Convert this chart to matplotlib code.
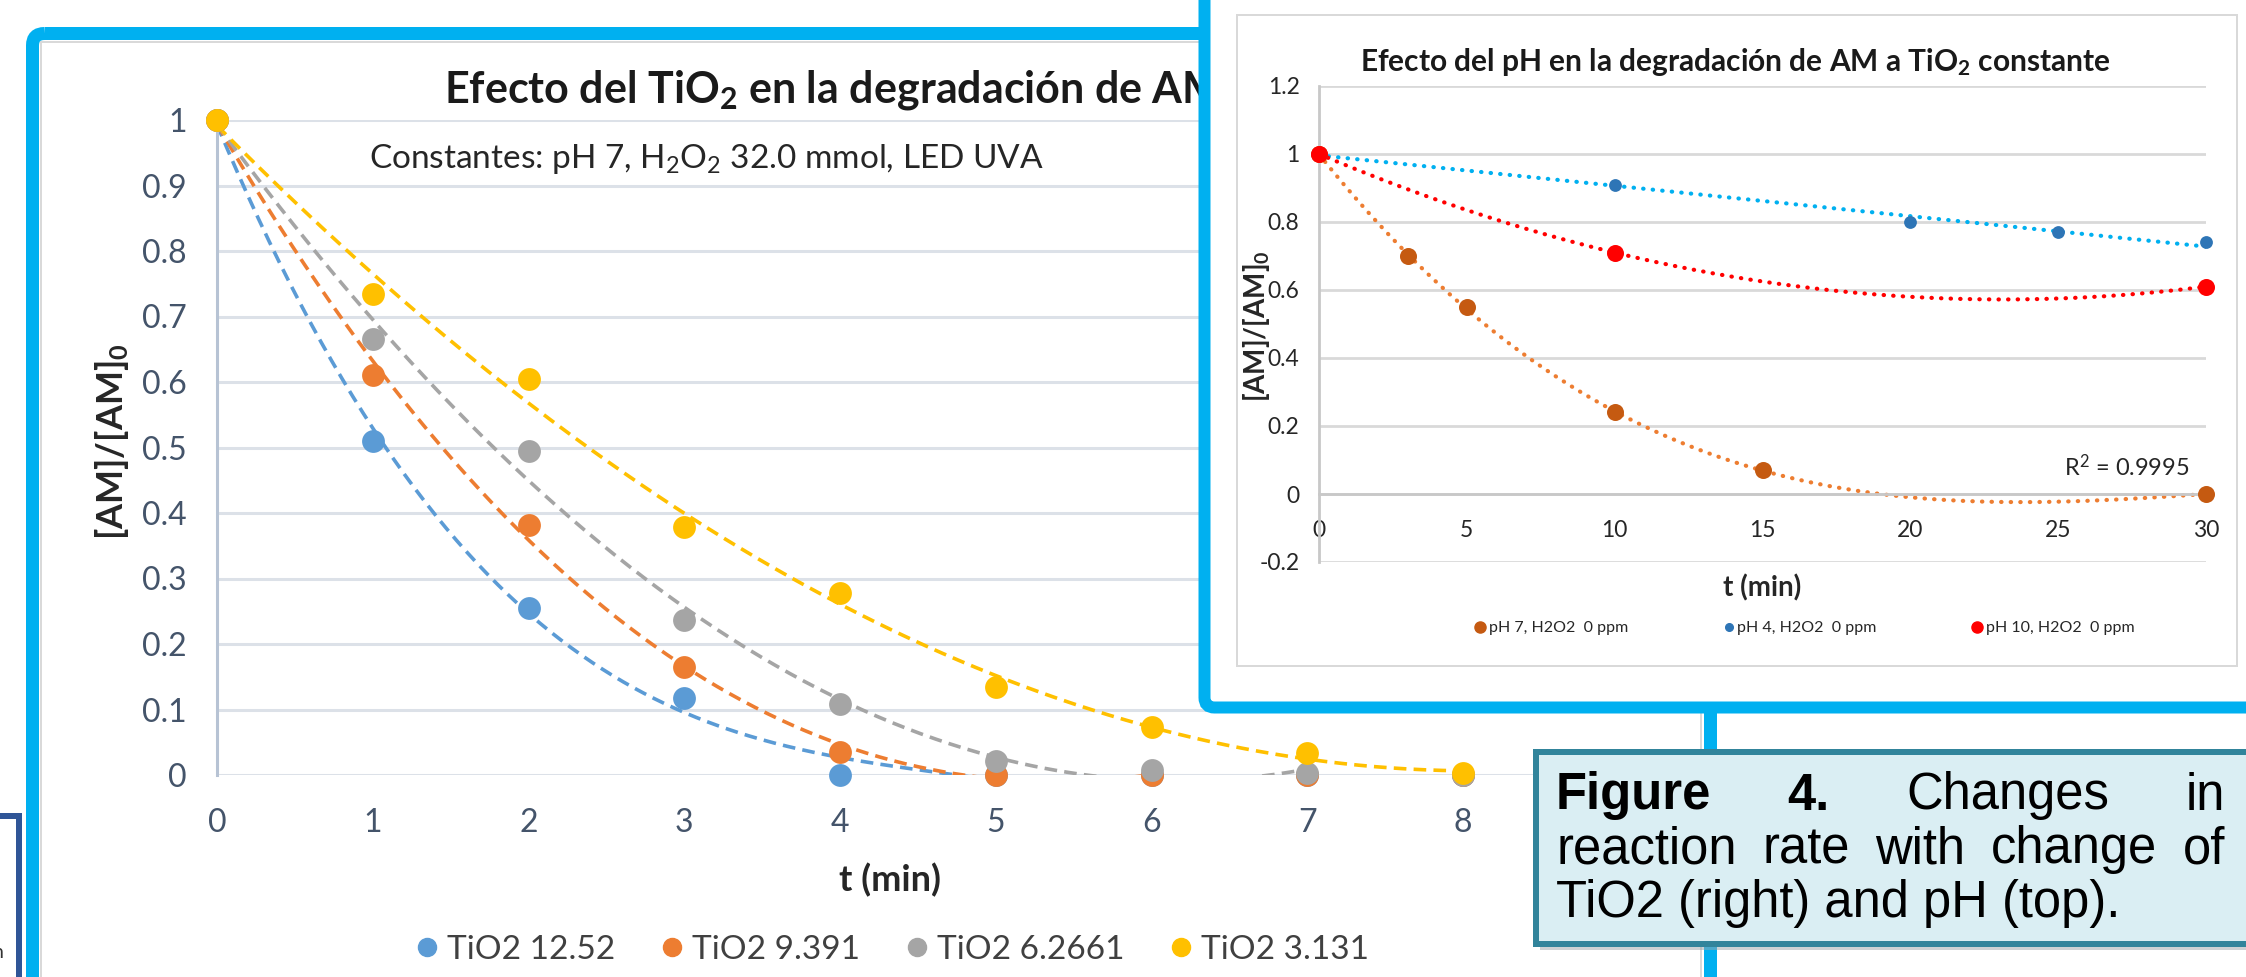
import numpy as np
import matplotlib.pyplot as plt
from matplotlib.patches import FancyBboxPatch, Rectangle
from matplotlib.lines import Line2D

plt.rcParams['font.family'] = ['Lato', 'DejaVu Sans']
plt.rcParams['mathtext.fontset'] = 'custom'
plt.rcParams['mathtext.rm'] = 'Lato'
plt.rcParams['mathtext.bf'] = 'Lato:bold'
plt.rcParams['mathtext.it'] = 'Lato:italic'

# main chart: effect of TiO2
t_main = [0, 1, 2, 3, 4, 5, 6, 7, 8]
tio2_labels = ['TiO2 12.52', 'TiO2 9.391', 'TiO2 6.2661', 'TiO2 3.131']
tio2_12 = [1, 0.51, 0.255, 0.118, 0.0, 0.0, 0.0, 0.0, 0.0]
tio2_9 = [1, 0.61, 0.382, 0.165, 0.035, 0.0, 0.0, 0.0, 0.0]
tio2_6 = [1, 0.665, 0.495, 0.237, 0.108, 0.022, 0.007, 0.003, 0.0]
tio2_3 = [1, 0.735, 0.605, 0.378, 0.278, 0.135, 0.073, 0.033, 0.003]
fit_n = [6, 7, 8, 9]   # points used by each trend line
main_colors = ['#5B9BD5', '#ED7D31', '#A5A5A5', '#FFC000']

# inset: effect of pH
t_ph7 = [0, 3, 5, 10, 15, 30]
ph7 = [1, 0.70, 0.55, 0.24, 0.07, 0.0]
t_ph4 = [0, 10, 20, 25, 30]
ph4 = [1, 0.91, 0.80, 0.77, 0.74]
t_ph10 = [0, 10, 30]
ph10 = [1, 0.71, 0.61]
ph_labels = ['pH 7, H2O2  0 ppm', 'pH 4, H2O2  0 ppm', 'pH 10, H2O2  0 ppm']
ph_deg = [3, 1, 2]   # trend line order

W, H = 2246, 977
fig = plt.figure(figsize=(W / 100, H / 100), dpi=100)
PT = 0.72  # points per pixel


def overlay(z):
    a = fig.add_axes([0, 0, 1, 1])
    a.set_xlim(0, W)
    a.set_ylim(H, 0)
    a.axis('off')
    a.set_zorder(z)
    return a


def px_rect(x0, y0, x1, y1):
    return [x0 / W, 1 - y1 / H, (x1 - x0) / W, (y1 - y0) / H]


# ---------- background: main chart frame ----------
bg = overlay(0)
bg.add_patch(Rectangle((41, 42), 1660, 1000, fc='white', ec='#D9D9D9', lw=2 * PT))
bg.add_patch(FancyBboxPatch((32.5, 33.5), 1678, 1000, boxstyle='round,pad=0,rounding_size=12',
                            fc='none', ec='#00B0F0', lw=13 * PT))
bg.add_patch(Rectangle((-60, 816), 79, 300, fc='white', ec='#2F5597', lw=6 * PT))
bg.text(-7, 952, 'n', fontsize=14, color='#333333', va='center', ha='left')

bg.text(444, 90, r'Efecto del TiO$_\mathbf{2}$ en la degradación de AM',
        fontsize=31, fontweight='bold', color='#1a1a1a', ha='left', va='center')
bg.text(369, 159, r'Constantes: pH 7, H$_2$O$_2$ 32.0 mmol, LED UVA',
        fontsize=24, color='#262626', ha='left', va='center')
bg.text(112, 442, r'[AM]/[AM]$_\mathbf{0}$', fontsize=26, fontweight='bold', color='#262626',
        rotation=90, ha='center', va='center')
bg.text(890, 880, 't (min)', fontsize=26, fontweight='bold', color='#262626',
        ha='center', va='center')

# ---------- main chart ----------
ax = fig.add_axes(px_rect(217, 120, 1619, 775))
ax.set_zorder(1)
ax.patch.set_alpha(0)
series = [tio2_12, tio2_9, tio2_6, tio2_3]
for y, n, c in zip(series, fit_n, main_colors):
    coef = np.polyfit(t_main[:n], y[:n], 3)
    tt = np.linspace(0, t_main[n - 1], 300)
    ax.plot(tt, np.polyval(coef, tt), ls=(0, (3.5, 2)), color=c, lw=2.6, zorder=2)
for y, c, lab in zip(series, main_colors, tio2_labels):
    ax.scatter(t_main, y, s=270, color=c, zorder=3, clip_on=False, label=lab, linewidths=0)

ax.set_xlim(0, 9)
ax.set_ylim(0, 1)
ax.set_xticks(range(10))
ax.set_yticks(np.round(np.arange(0, 1.01, 0.1), 1))
ax.set_yticklabels(['0', '0.1', '0.2', '0.3', '0.4', '0.5', '0.6', '0.7', '0.8', '0.9', '1'])
ax.yaxis.grid(True, color='#DCE1E8', lw=2.2)
ax.set_axisbelow(True)
for s in ['top', 'right', 'bottom']:
    ax.spines[s].set_visible(False)
ax.spines['left'].set_color('#B7C3D4')
ax.spines['left'].set_linewidth(2.2)
ax.tick_params(axis='y', length=0, pad=22, labelsize=23, labelcolor='#44546A')
ax.tick_params(axis='x', length=0, pad=24, labelsize=23, labelcolor='#44546A')

handles = [Line2D([], [], marker='o', ls='none', color=c, markersize=13) for c in main_colors]
fig.legend(handles, tio2_labels, loc='center', bbox_to_anchor=(893 / W, 1 - 950 / H),
           ncol=4, frameon=False, fontsize=24, handlelength=0.6, handletextpad=0.3,
           columnspacing=1.4, labelcolor='#404040')

# ---------- inset cover ----------
cv = overlay(2)
cv.add_patch(FancyBboxPatch((1204.5, -60), 1200, 767.5, boxstyle='round,pad=0,rounding_size=10',
                            fc='white', ec='#00B0F0', lw=12 * PT))
cv.add_patch(Rectangle((1237, 15), 1000, 651, fc='white', ec='#D9D9D9', lw=2 * PT))
cv.text(1735, 62, r'Efecto del pH en la degradación de AM a TiO$_\mathbf{2}$ constante',
        fontsize=21.5, fontweight='bold', color='#1a1a1a', ha='center', va='center')
cv.text(1257, 326, r'[AM]/[AM]$_\mathbf{0}$', fontsize=20, fontweight='bold', color='#262626',
        rotation=90, ha='center', va='center')
cv.text(1762, 588, 't (min)', fontsize=20, fontweight='bold', color='#262626',
        ha='center', va='center')

# ---------- inset chart ----------
ai = fig.add_axes(px_rect(1319, 86, 2206, 562))
ai.set_zorder(3)
ai.patch.set_alpha(0)
ph_t = [t_ph7, t_ph4, t_ph10]
ph_y = [ph7, ph4, ph10]
pt_colors = ['#C55A11', '#2E75B6', '#FF0000']
ln_colors = ['#ED7D31', '#00B0F0', '#FF0000']
pt_sizes = [150, 85, 150]
for x, y, lc, d in zip(ph_t, ph_y, ln_colors, ph_deg):
    coef = np.polyfit(x, y, d)
    tt = np.linspace(0, 30, 300)
    ai.plot(tt, np.polyval(coef, tt), ls=(0, (0.1, 2.2)), dash_capstyle='round',
            color=lc, lw=3, zorder=2)
for x, y, pc, s in zip(ph_t, ph_y, pt_colors, pt_sizes):
    ai.scatter(x, y, s=s, color=pc, zorder=3, clip_on=False, linewidths=0)

ai.set_xlim(0, 30)
ai.set_ylim(-0.2, 1.2)
ai.set_xticks(range(0, 31, 5))
ai.set_yticks(np.round(np.arange(-0.2, 1.21, 0.2), 1))
ai.set_yticklabels(['-0.2', '0', '0.2', '0.4', '0.6', '0.8', '1', '1.2'])
ai.yaxis.grid(True, color='#D9D9D9', lw=2)
ai.set_axisbelow(True)
for s in ['top', 'right']:
    ai.spines[s].set_visible(False)
ai.spines['bottom'].set_position(('data', 0))
for s in ['left', 'bottom']:
    ai.spines[s].set_color('#C8C8C8')
    ai.spines[s].set_linewidth(2)
ai.tick_params(axis='y', length=0, pad=14, labelsize=16.5, labelcolor='#262626')
ai.tick_params(axis='x', length=0, pad=19, labelsize=16.5, labelcolor='#262626')
ai.text(25.2, 0.08, r'R$^2$ = 0.9995', fontsize=17, color='#262626', ha='left', va='center')

ph_handles = [Line2D([], [], marker='o', ls='none', color=c, markersize=m)
              for c, m in zip(pt_colors, [8, 5.5, 8])]
fig.legend(ph_handles, ph_labels, loc='center', bbox_to_anchor=(1805 / W, 1 - 628 / H),
           ncol=3, frameon=False, fontsize=11.5, handlelength=0.6, handletextpad=0.25,
           columnspacing=6.0, labelcolor='#262626').set_zorder(3.5)

# ---------- caption ----------
cp = overlay(4)
cp.add_patch(Rectangle((1540, 758), 720, 192, fc='#9AA5AA', ec='none', alpha=0.5))
cp.add_patch(Rectangle((1536, 752), 720, 192, fc='#DAEEF3', ec='#31849B', lw=6 * PT))
fig.canvas.draw()
rend = fig.canvas.get_renderer()


def justify(words, weights, x0, x1, y):
    txts = [cp.text(x0, y, w, fontsize=36.5, fontweight=wt, family='Liberation Sans',
                    color='black', ha='left', va='center') for w, wt in zip(words, weights)]
    widths = [t.get_window_extent(rend).width for t in txts]
    gap = (x1 - x0 - sum(widths)) / (len(txts) - 1)
    x = x0
    for t, w in zip(txts, widths):
        t.set_x(x)
        x += w + gap


justify(['Figure', '4.', 'Changes', 'in'], ['bold', 'bold', 'normal', 'normal'], 1556, 2225, 796)
justify(['reaction', 'rate', 'with', 'change', 'of'], ['normal'] * 5, 1556, 2225, 850)
cp.text(1556, 904, 'TiO2 (right) and pH (top).', fontsize=36.5, family='Liberation Sans',
        color='black', ha='left', va='center')

fig.savefig('out.png', dpi=100)
